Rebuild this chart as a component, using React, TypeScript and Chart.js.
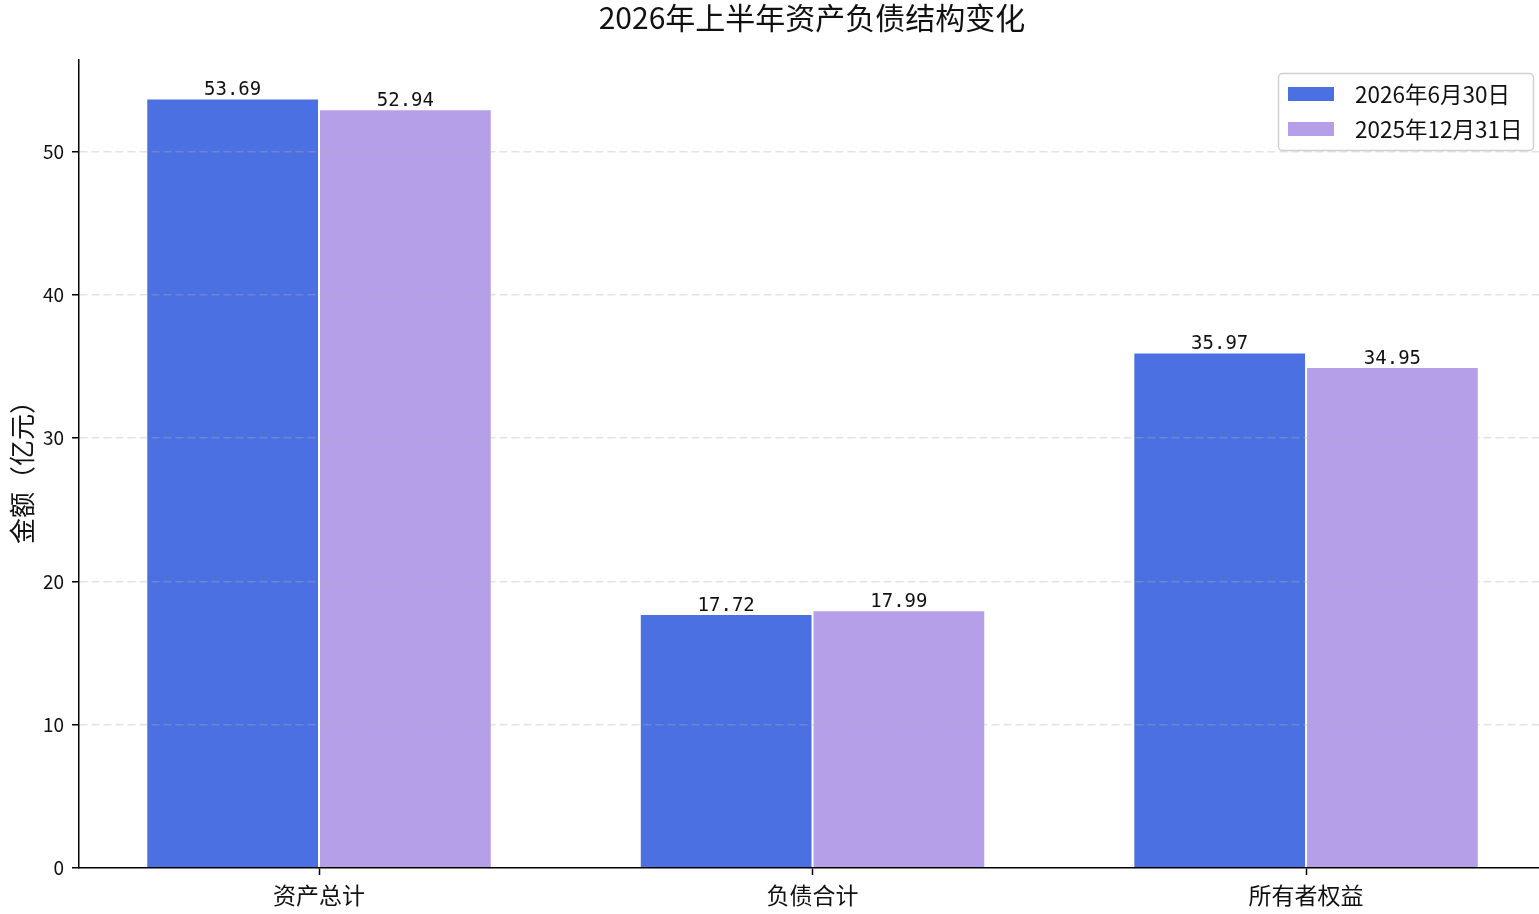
import React, { useEffect, useRef } from "react";
import { Chart, registerables, Plugin } from "chart.js";

Chart.register(...registerables);

const categories = ["资产总计", "负债合计", "所有者权益"];
const seriesNames = ["2026年6月30日", "2025年12月31日"];
const values2026H1 = [53.69, 17.72, 35.97];
const values2025End = [52.94, 17.99, 34.95];
const yTicks = [0, 10, 20, 30, 40, 50];

const BLUE = "#4a70e2";
const PURPLE = "#b59fe8";
const CJK = '"Noto Sans CJK SC", "Noto Sans", sans-serif';

const extrasPlugin: Plugin<"bar"> = {
  id: "extras",
  afterDatasetsDraw(chart) {
    const ctx = chart.ctx;
    ctx.save();
    ctx.font = '19px "DejaVu Sans Mono", monospace';
    ctx.fillStyle = "#111";
    ctx.textAlign = "center";
    ctx.textBaseline = "alphabetic";
    chart.data.datasets.forEach((ds, di) => {
      const meta = chart.getDatasetMeta(di);
      meta.data.forEach((bar: any, i) => {
        const v = (ds.data[i] as any).y as number;
        ctx.fillText(v.toFixed(2), bar.x, bar.y - 3);
      });
    });
    ctx.restore();
  },
  afterDraw(chart) {
    const ctx = chart.ctx;
    const area = chart.chartArea;
    ctx.save();
    // title
    ctx.fillStyle = "#111";
    ctx.font = `30px ${CJK}`;
    ctx.textAlign = "center";
    ctx.textBaseline = "middle";
    ctx.fillText("2026年上半年资产负债结构变化", (area.left + area.right) / 2 + 3, 18);
    // y axis title
    ctx.save();
    ctx.translate(22, (area.top + area.bottom) / 2 + 2);
    ctx.rotate(-Math.PI / 2);
    ctx.font = `26px ${CJK}`;
    ctx.fillText("金额（亿元）", 0, 0);
    ctx.restore();
    // legend
    const w = 255;
    const h = 77;
    const x0 = area.right - 6 - w;
    const y0 = area.top + 13;
    ctx.beginPath();
    ctx.roundRect(x0 + 0.5, y0 + 0.5, w, h, 4);
    ctx.fillStyle = "rgba(255,255,255,0.85)";
    ctx.fill();
    ctx.strokeStyle = "#d0d0d0";
    ctx.lineWidth = 1.5;
    ctx.stroke();
    const colors = [BLUE, PURPLE];
    ctx.font = `22.5px ${CJK}`;
    ctx.textAlign = "left";
    seriesNames.forEach((name, i) => {
      const cy = y0 + 21 + i * 35;
      ctx.fillStyle = colors[i];
      ctx.fillRect(x0 + 10, cy - 7, 46, 14);
      ctx.fillStyle = "#111";
      ctx.fillText(name, x0 + 77, cy);
    });
    ctx.restore();
  },
};

const App: React.FC = () => {
  const canvasRef = useRef<HTMLCanvasElement | null>(null);
  const chartRef = useRef<Chart | null>(null);

  useEffect(() => {
    if (!canvasRef.current) return;
    if (chartRef.current) chartRef.current.destroy();

    chartRef.current = new Chart(canvasRef.current, {
      type: "bar",
      data: {
        datasets: [
          {
            label: seriesNames[0],
            data: values2026H1.map((v, i) => ({ x: i, y: v })),
            backgroundColor: BLUE,
            borderColor: "#ffffff",
            borderWidth: 1,
          },
          {
            label: seriesNames[1],
            data: values2025End.map((v, i) => ({ x: i, y: v })),
            backgroundColor: PURPLE,
            borderColor: "#ffffff",
            borderWidth: 1,
          },
        ],
      },
      options: {
        animation: false,
        responsive: true,
        maintainAspectRatio: false,
        categoryPercentage: 0.7,
        barPercentage: 1,
        layout: { padding: { top: 60, left: 0, right: 0, bottom: 0 } },
        plugins: {
          legend: { display: false },
          title: { display: false },
          tooltip: { enabled: false },
        },
        scales: {
          x: {
            type: "linear",
            offset: false,
            min: -0.4863,
            max: 2.472,
            afterFit: (scale: any) => {
              scale.height = 46;
            },
            afterBuildTicks: (scale: any) => {
              scale.ticks = categories.map((_, i) => ({ value: i }));
            },
            grid: {
              offset: false,
              drawOnChartArea: false,
              drawTicks: true,
              tickLength: 7,
              tickColor: "#000",
              tickWidth: 1.5,
            },
            border: { display: true, color: "#000", width: 1.5, z: 2 },
            ticks: {
              padding: 6,
              color: "#111",
              font: { family: CJK, size: 23 },
              maxRotation: 0,
              autoSkip: false,
              callback: (v: any) => categories[Number(v)] ?? "",
            },
          },
          y: {
            type: "linear",
            min: 0,
            max: 56.37,
            afterFit: (scale: any) => {
              scale.width = 79;
            },
            afterBuildTicks: (scale: any) => {
              scale.ticks = yTicks.map((v) => ({ value: v }));
            },
            grid: {
              color: (c: any) => (c.tick && c.tick.value === 0 ? "rgba(0,0,0,0)" : "rgba(176,176,176,0.35)"),
              lineWidth: 1.5,
              z: 1,
              drawTicks: true,
              tickLength: 7,
              tickColor: "#000",
              tickWidth: 1.5,
            },
            border: { display: true, color: "#000", width: 1.5, dash: [8, 4], z: 2 },
            ticks: {
              padding: 8,
              color: "#111",
              font: { family: CJK, size: 19 },
              callback: (v: any) => String(v),
            },
          },
        },
      },
      plugins: [extrasPlugin],
    } as any);

    return () => {
      if (chartRef.current) {
        chartRef.current.destroy();
        chartRef.current = null;
      }
    };
  }, []);

  return (
    <div style={{ position: "absolute", left: 0, top: 0, width: 1539, height: 914, background: "#fff" }}>
      <canvas ref={canvasRef}></canvas>
    </div>
  );
};

export default App;
